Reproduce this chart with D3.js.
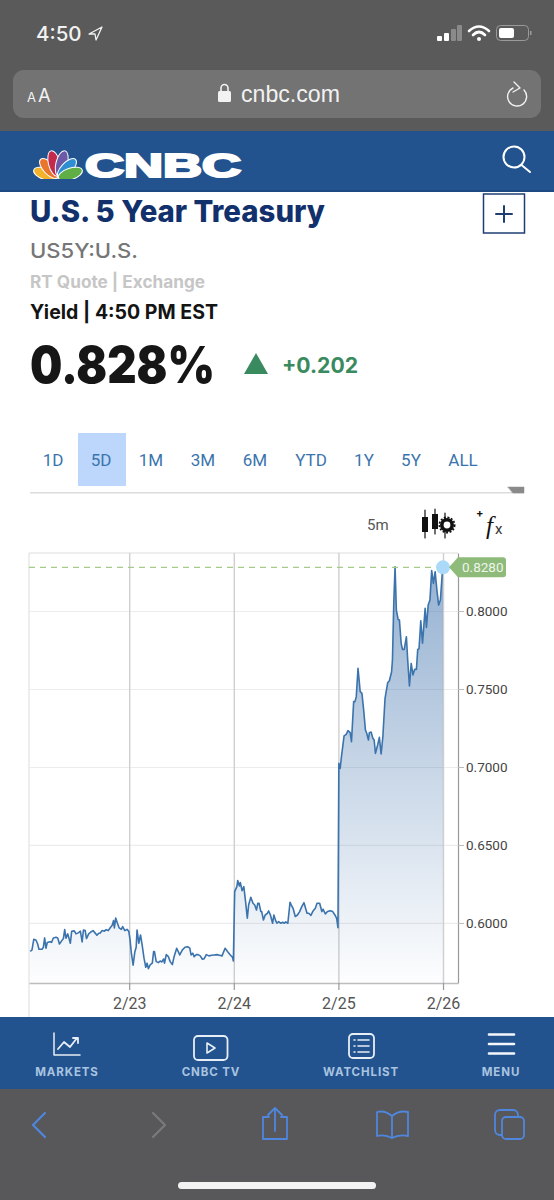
<!DOCTYPE html>
<html>
<head>
<meta charset="utf-8">
<title>U.S. 5 Year Treasury</title>
<script src="https://cdn.jsdelivr.net/npm/d3@7"></script>
<style>
html, body { margin: 0; padding: 0; background: #fff; }
svg { display: block; }
text { font-family: "Inter", "Liberation Sans", sans-serif; }
.rob { font-family: Roboto, sans-serif; }
</style>
</head>
<body>
<svg id="page"></svg>
<script>
var w = 554;
var h = 1200;

// hours since 2/22 00:00
var hours = [1.3,1.7,2.1,2.6,3.0,3.3,4.0,4.3,4.6,4.9,5.2,5.6,5.9,6.2,6.6,7.2,7.6,8.0,8.5,8.9,9.2,9.5,9.9,10.5,10.8,11.4,11.8,12.4,12.8,13.2,13.5,13.9,14.2,14.7,15.2,15.7,16.1,16.6,17.0,17.3,17.8,18.3,18.7,19.2,19.6,20.1,20.4,20.6,20.9,21.3,21.7,22.2,22.5,23.0,23.5,23.9,
    24.2,24.5,24.9,25.3,25.6,25.8,26.2,26.6,27.0,27.4,27.8,28.1,28.4,28.8,29.3,29.6,29.8,30.2,30.7,31.1,31.5,31.9,32.1,32.5,33.0,33.4,33.9,34.3,34.9,35.6,36.2,36.8,37.4,37.9,38.2,38.6,38.9,39.4,39.8,40.3,40.8,41.2,41.7,42.3,42.9,43.5,44.1,44.7,45.3,46.0,46.6,47.2,47.7,47.9,
    48.2,48.7,48.9,49.3,49.5,49.9,50.3,50.7,51.1,51.4,51.9,52.4,52.8,53.2,53.5,53.8,54.2,54.4,54.8,55.2,55.7,56.0,56.4,56.9,57.2,57.6,57.9,58.3,58.8,59.2,59.6,59.9,60.4,60.9,61.2,61.6,62.1,62.6,63.1,63.6,64.1,64.8,65.2,65.7,66.1,66.7,67.1,67.7,68.2,68.5,69.0,69.5,70.1,70.7,71.2,71.6,71.9,
    72.1,72.4,72.7,73.3,73.8,74.2,74.7,75.0,75.5,75.8,76.1,76.5,77.0,77.4,77.8,78.2,78.5,78.9,79.1,79.5,79.9,80.2,80.5,81.0,81.4,81.8,82.2,82.7,83.3,83.7,84.2,84.4,84.7,85.0,85.3,85.7,86.0,86.4,86.7,87.1,87.6,87.9,88.3,88.7,89.1,89.5,89.9,90.2,90.5,90.9,91.3,91.9,92.2,92.6,93.0,93.4,93.8,94.2,94.6,95.0,95.4,95.8,96.0];
var yields = [.5818,.5827,.5895,.5891,.5865,.5831,.5831,.5844,.5904,.5838,.5874,.5878,.5880,.5876,.5904,.5908,.5904,.5865,.5885,.5900,.5957,.5902,.5930,.5870,.5947,.5949,.5930,.5938,.5947,.5878,.5955,.5951,.5900,.5930,.5942,.5951,.5938,.5921,.5934,.5934,.5951,.5947,.5957,.5951,.5968,.5985,.6015,.5968,.6032,.5998,.5968,.5959,.5977,.5951,.5959,.5947,
    .5891,.5806,.5729,.5816,.5844,.5955,.5870,.5923,.5853,.5774,.5716,.5742,.5707,.5731,.5742,.5816,.5816,.5752,.5746,.5756,.5750,.5769,.5742,.5797,.5784,.5752,.5733,.5784,.5838,.5795,.5827,.5844,.5848,.5838,.5795,.5806,.5784,.5797,.5797,.5789,.5767,.5771,.5797,.5789,.5793,.5795,.5797,.5793,.5789,.5838,.5816,.5795,.5780,.5756,
    .6201,.6233,.6272,.6237,.6259,.6207,.6233,.6137,.6030,.6115,.6165,.6126,.6115,.6083,.6126,.6126,.6073,.6073,.6019,.6051,.6062,.6077,.6051,.5998,.6051,.6015,.5998,.6009,.5998,.6004,.5998,.6007,.5998,.6133,.6115,.6094,.6041,.6051,.6073,.6105,.6130,.6062,.6062,.6049,.6073,.6094,.6126,.6126,.6073,.6088,.6058,.6073,.6079,.6073,.6051,.6030,.5970,
    .7023,.6991,.7066,.7199,.7209,.7233,.7220,.7162,.7419,.7419,.7451,.7632,.7483,.7472,.7365,.7237,.7216,.7173,.7220,.7224,.7184,.7173,.7087,.7141,.7190,.7083,.7194,.7440,.7540,.7553,.7611,.7686,.8049,.8284,.8006,.7946,.7942,.7793,.7754,.7754,.7835,.7686,.7519,.7664,.7590,.7626,.7626,.7754,.7758,.7938,.7793,.8017,.7895,.8038,.8070,.8259,.8177,.8252,.8135,.8038,.8070,.8231,.8280];
var dateTicks = [24, 48, 72, 96];
var dateLabels = ["2/23", "2/24", "2/25", "2/26"];
var yieldTicks = [0.6, 0.65, 0.7, 0.75, 0.8];
var lastYield = 0.828;
var ranges = ["1D", "5D", "1M", "3M", "6M", "YTD", "1Y", "5Y", "ALL"];
var rangeCenters = [53, 101, 151, 203, 255, 311, 364, 411, 463];
var navItems = ["MARKETS", "CNBC TV", "WATCHLIST", "MENU"];
var navCenters = [67, 211, 361, 501];

var svg = d3.select("#page").attr("width", w).attr("height", h);

function label(x, y, str, size, weight, fill, anchor) {
    return svg.append("text")
        .attr("x", x).attr("y", y).text(str)
        .attr("font-size", size).attr("font-weight", weight)
        .attr("fill", fill).attr("text-anchor", anchor || "start");
}
function path(d, stroke, sw, fill) {
    return svg.append("path").attr("d", d)
        .attr("stroke", stroke || "none").attr("stroke-width", sw || 1)
        .attr("fill", fill || "none").attr("stroke-linecap", "round").attr("stroke-linejoin", "round");
}
function rect(x, y, rw, rh, fill, rx) {
    return svg.append("rect").attr("x", x).attr("y", y).attr("width", rw).attr("height", rh)
        .attr("fill", fill).attr("rx", rx || 0);
}
//squeeze a text to the width it has in the picture
function fit(t, len) {
    return t.attr("textLength", len).attr("lengthAdjust", "spacingAndGlyphs");
}

//browser chrome and site header
rect(0, 0, w, h, "#fff");
rect(0, 0, w, 131, "#5a5a5a");
label(36, 41, "4:50", 20.5, 500, "#f2f2f2");
path("M89 34 L102 27 L96 40 L95 34 Z", "#f2f2f2", 1.3);
[[437, 36, "#fff"], [444, 33, "#fff"], [451, 29, "#8a8a8a"], [457, 25, "#8a8a8a"]].forEach(function (b) {
    rect(b[0], b[1], 5, 41 - b[1], b[2], 1);
});
path("M469 31 Q479 22 489 31", "#fff", 2.6);
path("M473 35 Q479 29 485 35", "#fff", 2.6);
svg.append("circle").attr("cx", 479).attr("cy", 39).attr("r", 2).attr("fill", "#fff");
rect(496.5, 25.5, 32, 15, "none", 4).attr("stroke", "#9a9a9a");
rect(499, 28, 15, 10, "#fff", 2);
rect(530, 31, 1.5, 4, "#9a9a9a");

rect(13, 70, 528, 48, "#737373", 11);
label(27, 102, "A", 13, 400, "#f2f2f2");
label(38, 102, "A", 18.5, 400, "#f2f2f2");
rect(218, 91, 13, 11, "#f2f2f2", 1.5);
path("M221 91 V88 A3.5 3.5 0 0 1 228 88 V91", "#f2f2f2", 1.6);
fit(label(241, 102, "cnbc.com", 24, 400, "#f2f2f2").style("font-family", "'Liberation Sans'"), 99);
path("M513 88 A9.5 9.5 0 1 0 524 90", "#f2f2f2", 1.4);
path("M514 82 L520 88 L513 92", "#f2f2f2", 1.4);

rect(0, 131, w, 60, "#23538f");
rect(0, 190, w, 2, "#1d4a82");
//peacock logo feathers
var feathers = ["#f2b32b", "#e8762c", "#c42a4c", "#6c5aa6", "#2f8ed2", "#5fae46"];
feathers.forEach(function (c, i) {
    svg.append("ellipse")
        .attr("cx", 58).attr("cy", i == 2 || i == 3 ? 163 : 165)
        .attr("rx", 5.8).attr("ry", i == 2 || i == 3 ? 13 : 12.5)
        .attr("fill", c).attr("stroke", "#fff").attr("stroke-width", 1)
        .attr("transform", "rotate(" + (-72 + i * 28.8) + " 58 178)");
});
rect(30, 179, 54, 4, "#23538f");
fit(label(85, 177, "CNBC", 34, 900, "#fff"), 156)
    .attr("stroke", "#fff").attr("stroke-width", 2.2)
    .style("font-family", "'Liberation Sans'");
svg.append("circle").attr("cx", 514).attr("cy", 157).attr("r", 10.5)
    .attr("fill", "none").attr("stroke", "#fff").attr("stroke-width", 2);
path("M521.5 165 L530 172", "#fff", 2);

//quote block
fit(label(30, 222, "U.S. 5 Year Treasury", 30, 800, "#11306c"), 295);
rect(483.5, 194, 41, 39, "#fff").attr("stroke", "#1f3f73").attr("stroke-width", 1.5);
path("M504 206 V222 M496 214 H512", "#1f3f73", 2);
fit(label(30, 258, "US5Y:U.S.", 20.5, 500, "#767676"), 108);
fit(label(30, 288, "RT Quote | Exchange", 17, 700, "#c6c6c6"), 175);
fit(label(30, 319, "Yield | 4:50 PM EST", 19.5, 700, "#141414"), 188);
fit(label(30, 383, "0.828%", 51, 900, "#161616"), 185);
path("M256 353 L268 374 L244 374 Z", null, 1, "#3a8a60");
fit(label(282, 373, "+0.202", 21.5, 700, "#3a8a60"), 76);

//range tabs
rect(78, 433, 48, 53, "#bcd7fb");
ranges.forEach(function (r, i) {
    label(rangeCenters[i], 466, r, 17, 400, "#3a74ad", "middle").attr("class", "rob");
});
rect(30, 492, 494, 1.5, "#dcdcdc");
path("M508 487 H524 V493 H513 Z", "#8a8a8a", 0.5, "#8a8a8a");
label(367, 530, "5m", 15, 400, "#555").attr("class", "rob");

//candles and gear icon
path("M425 510 V538 M435 509 V534 M445 513 V538", "#111", 1.2);
rect(422, 517, 6, 15, "#111");
rect(432, 514, 6, 15, "#111");
svg.append("circle").attr("cx", 447).attr("cy", 525).attr("r", 5.2)
    .attr("fill", "#fff").attr("stroke", "#111").attr("stroke-width", 3.6);
svg.append("circle").attr("cx", 447).attr("cy", 525).attr("r", 7.6)
    .attr("fill", "none").attr("stroke", "#111").attr("stroke-width", 1.8).attr("stroke-dasharray", "2 1.6");
label(476, 517, "+", 11, 700, "#111");
label(486, 534, "f", 25, 400, "#111").style("font-family", "'Liberation Serif'").style("font-style", "italic");
label(495, 534, "x", 15, 400, "#333").attr("class", "rob");

//chart
var x = d3.scaleLinear().domain([1.01, 99.44]).range([29, 458]);
var y = d3.scaleLinear().domain([0.5615, 0.8372]).range([983, 553]);
var defs = svg.append("defs");
var gradient = defs.append("linearGradient").attr("id", "fade")
    .attr("gradientUnits", "userSpaceOnUse")
    .attr("x1", 0).attr("x2", 0).attr("y1", y(lastYield)).attr("y2", y.range()[0]);
gradient.append("stop").attr("offset", 0).attr("stop-color", "#2c64a4").attr("stop-opacity", 0.5);
gradient.append("stop").attr("offset", 1).attr("stop-color", "#2c64a4").attr("stop-opacity", 0.01);

svg.append("line").attr("x1", 29).attr("x2", 458).attr("y1", 553).attr("y2", 553).attr("stroke", "#ddd");
svg.append("line").attr("x1", 29).attr("x2", 29).attr("y1", 553).attr("y2", 1017).attr("stroke", "#e2e2e2").attr("stroke-width", 1.2);

//grid lines come from the axes themselves
var yGrid = svg.append("g").attr("transform", "translate(458,0)")
    .call(d3.axisLeft(y).tickValues(yieldTicks).tickSize(429).tickFormat(""));
yGrid.select(".domain").remove();
yGrid.selectAll("line").attr("stroke", "#ececec").attr("stroke-width", 1.2);

var xGrid = svg.append("g").attr("transform", "translate(0,983)")
    .call(d3.axisTop(x).tickValues(dateTicks).tickSize(430).tickFormat(""));
xGrid.select(".domain").remove();
xGrid.selectAll("line").attr("stroke", "#cfcfcf").attr("stroke-width", 1.4);

var points = hours.map(function (t, i) { return [t, yields[i]]; });
var area = d3.area()
    .x(function (d) { return x(d[0]); })
    .y0(y.range()[0])
    .y1(function (d) { return y(d[1]); });
var line = d3.line()
    .x(function (d) { return x(d[0]); })
    .y(function (d) { return y(d[1]); });
svg.append("path").datum(points).attr("d", area).attr("fill", "url(#fade)");
svg.append("path").datum(points).attr("d", line)
    .attr("fill", "none").attr("stroke", "#3b73ad").attr("stroke-width", 1.6).attr("stroke-linejoin", "round");

svg.append("line").attr("x1", 29).attr("x2", x(96)).attr("y1", y(lastYield)).attr("y2", y(lastYield))
    .attr("stroke", "#a6cb88").attr("stroke-width", 1.3).attr("stroke-dasharray", "6 5");

var yAxis = svg.append("g").attr("transform", "translate(458,0)")
    .call(d3.axisRight(y).tickValues(yieldTicks).tickSize(6).tickSizeOuter(0).tickPadding(2).tickFormat(d3.format(".4f")));
yAxis.select(".domain").attr("stroke", "#999").attr("stroke-width", 1.2);
yAxis.selectAll("line").attr("stroke", "#bbb");
yAxis.selectAll("text").attr("font-size", 13.5).attr("fill", "#444").attr("class", "rob");

var xAxis = svg.append("g").attr("transform", "translate(0,983)")
    .call(d3.axisBottom(x).tickValues(dateTicks).tickSize(7).tickSizeOuter(0).tickPadding(8).tickFormat(function (d, i) { return dateLabels[i]; }));
xAxis.select(".domain").attr("stroke", "#bdbdbd").attr("stroke-width", 1.6);
xAxis.selectAll("line").attr("stroke", "#999").attr("stroke-width", 1.2);
xAxis.selectAll("text").attr("font-size", 16).attr("fill", "#555").attr("class", "rob");

svg.append("circle").attr("cx", x(96)).attr("cy", y(lastYield)).attr("r", 7).attr("fill", "#aadaf8");
var ly = y(lastYield);
path("M449 " + ly + " L458 " + (ly - 10) + " H503 Q506 " + (ly - 10) + " 506 " + (ly - 7) + " V" + (ly + 7) + " Q506 " + (ly + 10) + " 503 " + (ly + 10) + " H458 Z", null, 1, "#8fbb7a");
label(462, ly + 5, d3.format(".4f")(lastYield), 13.5, 400, "#eef5ea").attr("class", "rob");

//bottom nav
rect(0, 1017, w, 72, "#23538f");
navItems.forEach(function (n, i) {
    label(navCenters[i], 1076, n, 11.5, 700, "#a9c4e0", "middle").attr("letter-spacing", 0.9);
});
path("M54 1033 V1055 H80", "#e8eef6", 1.5);
path("M58 1049 L64 1042 L70 1047 L77 1038 M73 1038 H78 V1043", "#e8eef6", 1.8);
rect(194, 1036, 33.5, 24, "none", 4).attr("stroke", "#e8eef6").attr("stroke-width", 1.8);
path("M207 1043 L215 1048 L207 1053 Z", "#e8eef6", 1.6);
rect(349, 1034, 25, 24, "none", 4).attr("stroke", "#e8eef6").attr("stroke-width", 1.8);
path("M354 1040 H355 M358 1040 H369 M354 1046 H355 M358 1046 H369 M354 1052 H355 M358 1052 H369", "#e8eef6", 1.6);
path("M489 1034.5 H514 M489 1044 H514 M489 1053.5 H514", "#f4f7fb", 2.6);

//safari toolbar
rect(0, 1089, w, 111, "#58585a");
path("M45 1113 L33 1125 L45 1137", "#4f86de", 2.2);
path("M153 1113 L165 1125 L153 1137", "#7a7a7a", 2.2);
path("M269 1117 H263 V1139 H287 V1117 H281 M275 1131 V1108 M268 1115 L275 1108 L282 1115", "#4f86de", 1.8);
path("M392 1116 Q385 1110 377 1112 V1136 Q385 1134 392 1138 Q399 1134 408 1136 V1112 Q399 1110 392 1116 V1138", "#4f86de", 1.8);
rect(495, 1110, 23, 25, "none", 5).attr("stroke", "#4f86de").attr("stroke-width", 1.8);
rect(502, 1117, 22, 22, "#58585a", 4).attr("stroke", "#4f86de").attr("stroke-width", 1.8);
rect(178, 1182, 198, 7, "#f2f2f2", 3.5);
</script>
</body>
</html>
